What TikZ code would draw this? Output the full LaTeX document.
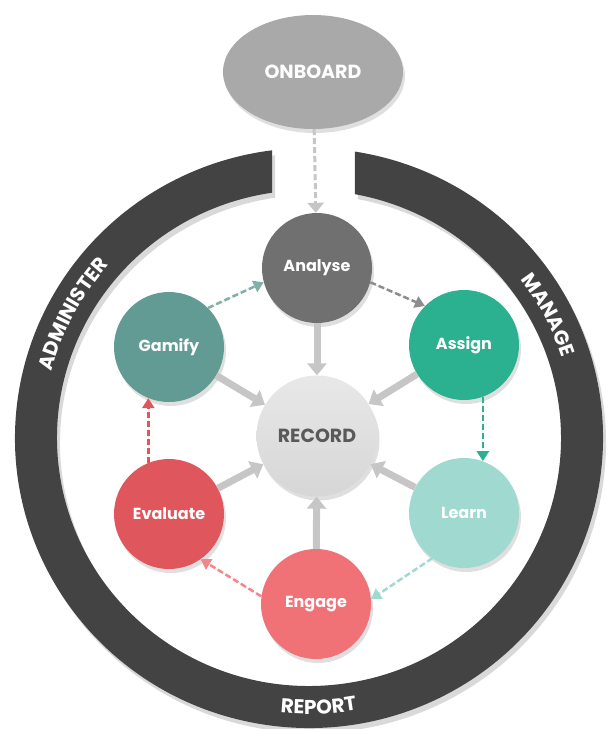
\documentclass[tikz,border=0pt]{standalone}
\usepackage{fontspec}
\setmainfont{Poppins}
\usetikzlibrary{calc,shapes,positioning}
\usetikzlibrary{arrows.meta,shadows,decorations.text}
\definecolor{ringgray}{HTML}{434343}
\definecolor{onbgray}{HTML}{A9A9A9}
\definecolor{anagray}{HTML}{707070}
\definecolor{gamteal}{HTML}{619B93}
\definecolor{asggreen}{HTML}{2BB190}
\definecolor{lrnteal}{HTML}{9FD9CF}
\definecolor{engred}{HTML}{F07176}
\definecolor{evlred}{HTML}{DF575C}
\definecolor{spokegray}{HTML}{C6C6C6}
\definecolor{rectext}{HTML}{595959}

\begin{document}
\begin{tikzpicture}[x=1pt,y=-1pt]
    \useasboundingbox (0,0) rectangle (609,729);
    \tikzstyle{stage} = [circle, minimum size=110pt, inner sep=0pt, text=white,
      font=\fontsize{16}{16}\selectfont\bfseries,
      drop shadow={opacity=.25, shadow xshift=2pt, shadow yshift=-4pt}]
    \tikzstyle{spoke} = [line width=7pt, draw=spokegray,
      -{Triangle[width=19pt,length=12pt,fill=spokegray]}]
    \tikzstyle{flow} = [line width=2.5pt, dash pattern=on 6pt off 3pt,
      -{Triangle[width=12pt,length=10pt]}]
    \tikzstyle{ringlabel} = [decorate, decoration={text along path, text align=center,
      text color=white, text={|\fontsize{20}{20}\selectfont\bfseries|#1}}]

    % outer ring
    \begin{scope}[shift={(309,438)}]
      \fill[ringgray, drop shadow={opacity=.3, shadow xshift=3pt, shadow yshift=-5pt}]
        (279:294 and 290) arc[start angle=279, end angle=622.8, x radius=294, y radius=290]
        -- (621.6:252 and 248) arc[start angle=621.6, end angle=280.5, x radius=252, y radius=248]
        -- cycle;
      \path[ringlabel=ADMINISTER] (180:266 and 262)
        arc[start angle=180, end angle=236, x radius=266, y radius=262];
      \path[ringlabel=MANAGE] (305:266 and 262)
        arc[start angle=305, end angle=360, x radius=266, y radius=262];
      \path[ringlabel=REPORT] (112:280 and 276)
        arc[start angle=112, end angle=64, x radius=280, y radius=276];
    \end{scope}

    \node[ellipse, minimum width=180pt, minimum height=114pt, fill=onbgray, text=white,
      font=\fontsize{19}{19}\selectfont\bfseries,
      drop shadow={opacity=.25, shadow xshift=2pt, shadow yshift=-4pt}] (onboard) at (313,72) {ONBOARD};

    \node[circle, minimum size=121pt, inner sep=0pt, top color=gray!18, bottom color=gray!32,
      text=rectext, font=\fontsize{19}{19}\selectfont\bfseries,
      drop shadow={opacity=.25, shadow xshift=2pt, shadow yshift=-4pt}] (record) at (317,436) {RECORD};

    \node[stage, fill=anagray] (analyse) at (317,268) {Analyse};
    \node[stage, fill=asggreen] (assign) at (464,345) {Assign};
    \node[stage, fill=lrnteal] (learn) at (464,513) {Learn};
    \node[stage, fill=engred] (engage) at (316,604) {Engage};
    \node[stage, fill=evlred] (evaluate) at (169,514) {Evaluate};
    \node[stage, fill=gamteal] (gamify) at (169,347) {Gamify};

    % connections
    \draw[line width=3pt, draw=gray!45, dash pattern=on 6pt off 3pt,
      -{Triangle[width=16pt,length=10pt,fill=gray!45]}] (onboard) -- (analyse);

    \draw[spoke] (analyse) -- (record);
    \draw[spoke] (assign) -- (record);
    \draw[spoke] (learn) -- (record);
    \draw[spoke] (engage) -- (record);
    \draw[spoke] (evaluate) -- (record);
    \draw[spoke] (gamify) -- (record);

    \draw[flow, draw=gamteal!80, fill=gamteal!80] (gamify.45) -- (analyse.195);
    \draw[flow, draw=anagray!80, fill=anagray!80] (analyse.-15) -- (assign.135);
    \draw[flow, draw=asggreen, fill=asggreen] (assign.-70) -- (learn.70);
    \draw[flow, draw=lrnteal, fill=lrnteal] (learn.-125) -- (engage.5);
    \draw[flow, draw=engred!85, fill=engred!85] (engage.172) -- (evaluate.-55);
    \draw[flow, draw=evlred, fill=evlred] (evaluate.112) -- (gamify.-112);

  \end{tikzpicture}
\end{document}
